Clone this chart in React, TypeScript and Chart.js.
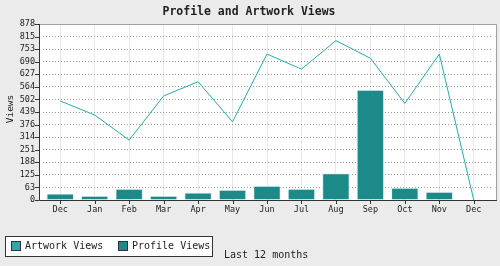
import React, { useEffect, useRef } from "react";
import { Chart, registerables } from "chart.js";

Chart.register(...registerables);

const categories = ["Dec", "Jan", "Feb", "Mar", "Apr", "May", "Jun", "Jul", "Aug", "Sep", "Oct", "Nov", "Dec"];
const artworkViews = [494, 424, 299, 519, 590, 390, 728, 653, 795, 707, 482, 728, 0];
const profileViews = [33, 21, 56, 21, 38, 51, 71, 56, 133, 550, 61, 41, 0];
const yMax = 878;
const yStepCount = 14;
const titleText = "Profile and Artwork Views";
const yTitle = "Views";
const xTitle = "Last 12 months";

const LINE_COLOR = "#27abab";
const BAR_COLOR = "#1d8a8a";
const MONO = "'DejaVu Sans Mono', 'Liberation Mono', monospace";

const PLOT_L = 39;
const PLOT_R = 496;

const decorPlugin = {
  id: "decor",
  beforeDraw(chart: any) {
    const { ctx, chartArea } = chart;
    ctx.save();
    ctx.fillStyle = "#ebebeb";
    ctx.fillRect(0, 0, chart.width, chart.height);
    ctx.fillStyle = "#ffffff";
    ctx.fillRect(PLOT_L, chartArea.top, PLOT_R - PLOT_L, chartArea.bottom - chartArea.top);
    ctx.restore();
  },
  afterDraw(chart: any) {
    const { ctx, chartArea, scales } = chart;
    const top = chartArea.top;
    const bottom = chartArea.bottom;
    ctx.save();
    ctx.strokeStyle = "#a0a0a0";
    ctx.lineWidth = 1;
    ctx.beginPath();
    ctx.moveTo(PLOT_L, top + 0.5);
    ctx.lineTo(PLOT_R + 0.5, top + 0.5);
    ctx.lineTo(PLOT_R + 0.5, bottom);
    ctx.stroke();
    ctx.strokeStyle = "#333333";
    ctx.beginPath();
    ctx.moveTo(PLOT_L + 0.5, top);
    ctx.lineTo(PLOT_L + 0.5, bottom + 0.5);
    ctx.lineTo(PLOT_R + 1, bottom + 0.5);
    ctx.stroke();
    const y = scales.y;
    ctx.beginPath();
    y.ticks.forEach((t: any) => {
      const py = Math.round(y.getPixelForValue(t.value)) + 0.5;
      ctx.moveTo(PLOT_L - 4, py);
      ctx.lineTo(PLOT_L, py);
    });
    const x = scales.x;
    categories.forEach((_c, i) => {
      const px = Math.round(x.getPixelForValue(i)) + 0.5;
      ctx.moveTo(px, bottom);
      ctx.lineTo(px, bottom + 4);
    });
    ctx.stroke();

    ctx.fillStyle = "#222222";
    ctx.font = `bold 11.5px ${MONO}`;
    ctx.textAlign = "center";
    ctx.textBaseline = "middle";
    ctx.fillText(titleText, 249, 12);

    ctx.save();
    ctx.translate(11, 109);
    ctx.rotate(-Math.PI / 2);
    ctx.font = `9.5px ${MONO}`;
    ctx.fillText(yTitle, 0, 0);
    ctx.restore();

    ctx.fillStyle = "#ffffff";
    ctx.fillRect(5, 236, 208, 20);
    ctx.strokeStyle = "#333333";
    ctx.lineWidth = 1;
    ctx.strokeRect(5.5, 236.5, 207, 20);
    const items = [
      { label: chart.data.datasets[0].label, color: LINE_COLOR, x: 11 },
      { label: chart.data.datasets[1].label, color: BAR_COLOR, x: 118 },
    ];
    ctx.font = `10px ${MONO}`;
    ctx.textAlign = "left";
    ctx.textBaseline = "middle";
    items.forEach((it) => {
      ctx.fillStyle = it.color;
      ctx.fillRect(it.x, 241, 10, 10);
      ctx.strokeStyle = "#333333";
      ctx.strokeRect(it.x + 0.5, 241.5, 9, 9);
      ctx.fillStyle = "#222222";
      ctx.fillText(it.label, it.x + 14, 246.5);
    });

    ctx.fillText(xTitle, 224, 255);
    ctx.restore();
  },
};

export default function App() {
  const ref = useRef<HTMLCanvasElement | null>(null);
  useEffect(() => {
    document.body.style.margin = "0";
    if (!ref.current) return;
    const chart = new Chart(ref.current, {
      type: "bar",
      data: {
        labels: categories,
        datasets: [
          {
            type: "line",
            label: "Artwork Views",
            data: artworkViews,
            borderColor: LINE_COLOR,
            backgroundColor: LINE_COLOR,
            borderWidth: 1,
            pointRadius: 0,
            tension: 0,
            fill: false,
            order: 0,
          } as any,
          {
            type: "bar",
            label: "Profile Views",
            data: profileViews,
            backgroundColor: BAR_COLOR,
            borderColor: "#e4f2f2",
            borderWidth: 1,
            borderSkipped: "bottom",
            barPercentage: 0.8,
            categoryPercentage: 1,
            order: 1,
          },
        ],
      },
      options: {
        responsive: false,
        animation: false,
        layout: { padding: { top: 24, right: 9, left: 0, bottom: 0 } },
        plugins: {
          legend: { display: false },
          title: { display: false },
          tooltip: { enabled: false },
        },
        scales: {
          x: {
            type: "category",
            offset: true,
            afterFit: (s: any) => {
              s.height = 66;
            },
            grid: { offset: false, color: "#e8e8e8", lineWidth: 1, drawTicks: false },
            border: { display: false },
            ticks: {
              padding: 5,
              color: "#222222",
              font: { family: MONO, size: 8.5 },
              maxRotation: 0,
              autoSkip: false,
            },
          },
          y: {
            min: 0,
            max: yMax,
            afterFit: (s: any) => {
              s.width = 43;
            },
            afterBuildTicks: (s: any) => {
              const ticks = [];
              for (let i = 0; i <= yStepCount; i++) ticks.push({ value: (yMax * i) / yStepCount });
              s.ticks = ticks;
            },
            grid: { color: "#999999", lineWidth: 1, drawTicks: false },
            border: { display: false, dash: [1, 2] },
            ticks: {
              padding: 8,
              autoSkip: false,
              color: "#222222",
              font: { family: MONO, size: 8.5 },
              callback: (v: any) => String(Math.round(Number(v))),
            },
          },
        },
      },
      plugins: [decorPlugin],
    });
    return () => chart.destroy();
  }, []);
  return <canvas ref={ref} width={500} height={266} style={{ display: "block" }} />;
}
